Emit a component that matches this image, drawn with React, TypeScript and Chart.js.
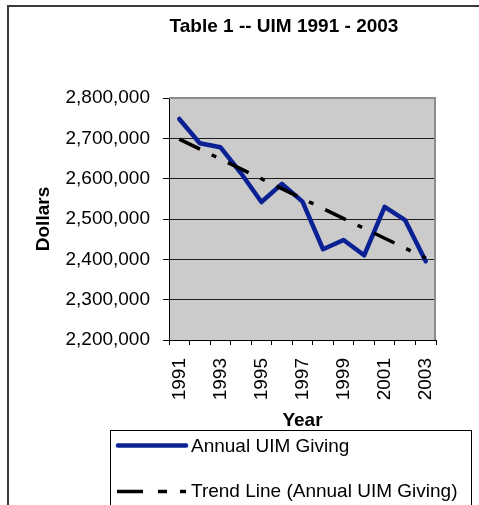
import React, { useEffect, useRef } from "react";
import { Chart, registerables } from "chart.js";

Chart.register(...registerables);

const FONT = "'Liberation Sans', Arial, sans-serif";

const years = ["1991", "1992", "1993", "1994", "1995", "1996", "1997", "1998", "1999", "2000", "2001", "2002", "2003"];
const giving = [2748000, 2688000, 2678000, 2614000, 2542000, 2587000, 2543000, 2425000, 2448000, 2410000, 2530000, 2497000, 2395000];
const trend = [2698000, null, null, null, null, null, null, null, null, null, null, null, 2403000];
const yMin = 2200000;
const yMax = 2800000;
const yStep = 100000;

const chartTitle = "Table 1 -- UIM 1991 - 2003";
const givingLabel = "Annual UIM Giving";
const trendLabel = "Trend Line (Annual UIM Giving)";

const BLUE = "#0a2193";
const PLOT_BG = "#cbcbcb";

const decorPlugin = {
  id: "decor",
  beforeDraw(chart: any) {
    const { ctx, chartArea: a, width, height } = chart;
    ctx.save();
    ctx.fillStyle = "#ffffff";
    ctx.fillRect(0, 0, width, height);
    ctx.fillStyle = PLOT_BG;
    ctx.fillRect(a.left, a.top, a.right - a.left, a.bottom - a.top);
    ctx.restore();
  },
  afterDraw(chart: any) {
    const { ctx, chartArea: a } = chart;
    ctx.save();
    // plot border top/right
    ctx.strokeStyle = "#8c8c8c";
    ctx.lineWidth = 2;
    ctx.beginPath();
    ctx.moveTo(a.left, a.top);
    ctx.lineTo(a.right - 1, a.top);
    ctx.lineTo(a.right - 1, a.bottom);
    ctx.stroke();

    // outer frame
    ctx.strokeStyle = "#3a3a3a";
    ctx.lineWidth = 2;
    ctx.strokeRect(8, 6, 600, 600);

    // title
    ctx.fillStyle = "#000";
    ctx.font = `bold 19px ${FONT}`;
    ctx.textAlign = "center";
    ctx.textBaseline = "alphabetic";
    ctx.fillText(chartTitle, 284, 32);

    // legend box
    ctx.strokeStyle = "#000";
    ctx.lineWidth = 1;
    ctx.strokeRect(110.5, 430.5, 361, 120);

    // legend entry 1
    ctx.strokeStyle = BLUE;
    ctx.lineWidth = 4.5;
    ctx.lineCap = "round";
    ctx.beginPath();
    ctx.moveTo(118, 445.5);
    ctx.lineTo(186, 445.5);
    ctx.stroke();

    // legend entry 2
    ctx.strokeStyle = "#000";
    ctx.lineWidth = 3.5;
    ctx.lineCap = "butt";
    ctx.setLineDash([26, 15, 9, 13, 6, 100]);
    ctx.beginPath();
    ctx.moveTo(117, 491.5);
    ctx.lineTo(187, 491.5);
    ctx.stroke();
    ctx.setLineDash([]);

    ctx.fillStyle = "#000";
    ctx.font = `19px ${FONT}`;
    ctx.textAlign = "left";
    ctx.fillText(givingLabel, 191, 452);
    ctx.fillText(trendLabel, 191, 497);
    ctx.restore();
  },
};

export default function App() {
  const ref = useRef<HTMLCanvasElement>(null);

  useEffect(() => {
    if (!ref.current) return;
    Chart.defaults.font.family = FONT;
    Chart.defaults.color = "#000";
    const chart = new Chart(ref.current, {
      type: "line",
      data: {
        labels: years,
        datasets: [
          {
            label: trendLabel,
            data: trend as any,
            borderColor: "#000",
            borderWidth: 3.5,
            borderDash: [23, 13, 5, 13],
            borderCapStyle: "butt",
            pointRadius: 0,
            spanGaps: true,
            fill: false,
          },
          {
            label: givingLabel,
            data: giving,
            borderColor: BLUE,
            borderWidth: 4.5,
            borderJoinStyle: "round",
            borderCapStyle: "round",
            pointRadius: 0,
            tension: 0,
            fill: false,
          },
        ],
      },
      options: {
        responsive: false,
        animation: false,
        layout: { padding: { top: 98, right: 43, bottom: 73, left: 0 } },
        plugins: {
          legend: { display: false },
          title: { display: false },
          tooltip: { enabled: false },
        },
        scales: {
          x: {
            type: "category",
            offset: true,
            grid: {
              offset: true,
              drawOnChartArea: false,
              drawTicks: true,
              tickLength: 5,
              color: "#000",
              tickColor: "#000",
              lineWidth: 1,
            },
            border: { color: "#000", width: 1 },
            ticks: {
              autoSkip: false,
              minRotation: 90,
              maxRotation: 90,
              padding: 13,
              color: "#000",
              font: { family: FONT, size: 19 },
              callback: (_v: any, i: number) => (i % 2 === 0 ? years[i] : ""),
            },
            title: {
              display: true,
              text: "Year",
              color: "#000",
              font: { family: FONT, size: 19, weight: "bold" },
              padding: { top: 0, bottom: 0 },
            },
            afterFit: (s: any) => {
              s.height = 92;
            },
          },
          y: {
            min: yMin,
            max: yMax,
            grid: {
              color: "#1e1e1e",
              tickColor: "#000",
              lineWidth: 1,
              tickLength: 6,
            },
            border: { color: "#000", width: 1 },
            ticks: {
              stepSize: yStep,
              padding: 13,
              color: "#000",
              font: { family: FONT, size: 19 },
              callback: (v: any) => Number(v).toLocaleString("en-US"),
            },
            title: {
              display: true,
              text: "Dollars",
              color: "#000",
              font: { family: FONT, size: 19, weight: "bold" },
              padding: { top: 32, bottom: 0 },
            },
            afterFit: (s: any) => {
              s.width = 169;
            },
          },
        },
      },
      plugins: [decorPlugin],
    });
    return () => chart.destroy();
  }, []);

  return (
    <div style={{ position: "fixed", left: 0, top: 0, width: 479, height: 505, background: "#fff" }}>
      <canvas ref={ref} width={479} height={505} style={{ display: "block" }} />
    </div>
  );
}
